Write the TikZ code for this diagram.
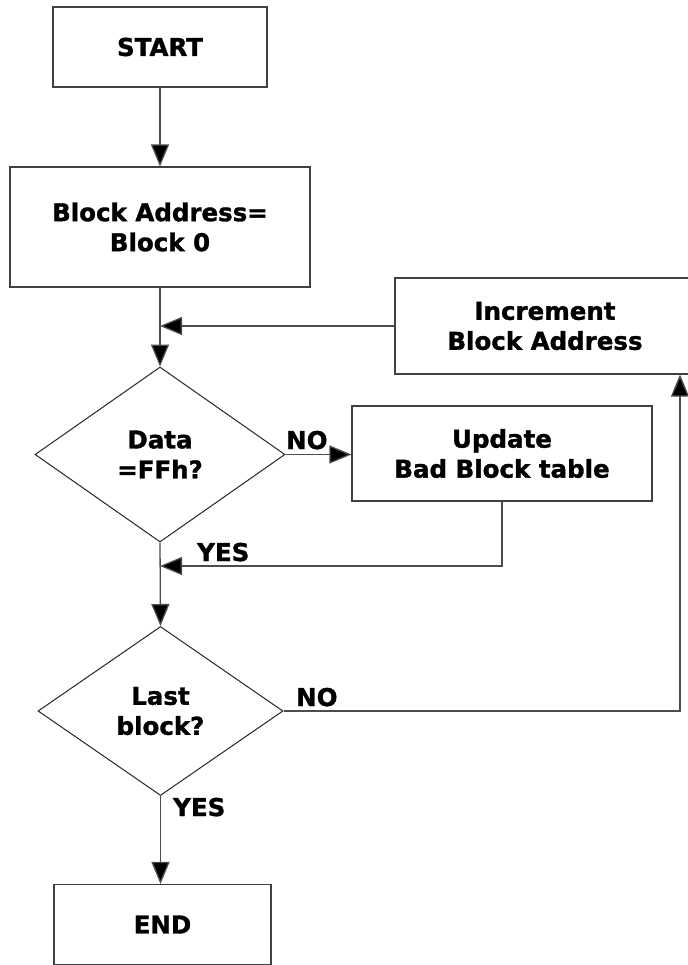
\documentclass[tikz,border=0pt]{standalone}
\usepackage{fontspec}
\setmainfont{DejaVu Sans}[BoldFeatures={FakeBold=1.3}]
\usetikzlibrary{shapes.geometric,arrows.meta}
\begin{document}
\begin{tikzpicture}[x=1pt,y=-1pt,
  every node/.style={font=\fontsize{24.5}{30}\selectfont\bfseries, align=center, inner sep=0pt},
  box/.style={draw=black!75, line width=1.2pt, rectangle},
  dec/.style={draw=black!85, line width=1pt, diamond},
  conn/.style={draw=black!70, line width=1.3pt},
  arr/.style={conn, -{Triangle[length=22pt,width=18pt,fill=black]}},
  lbl/.style={anchor=base west}]
\useasboundingbox[fill=white] (0,0) rectangle (687,965);
\node[box, minimum width=214pt, minimum height=80pt] (start) at (160,47) {START};
\node[box, minimum width=300pt, minimum height=120pt] (blk) at (160,227) {Block Address=\\Block 0};
\node[box, minimum width=300pt, minimum height=96pt] (inc) at (545,326) {Increment\\Block Address};
\node[dec, minimum width=250pt, minimum height=175pt] (d1) at (160,454.5) {Data\\=FFh?};
\node[box, minimum width=300pt, minimum height=95pt] (upd) at (502,453.5) {Update\\Bad Block table};
\node[dec, minimum width=245pt, minimum height=169pt] (d2) at (160.5,711) {Last\\block?};
\node[box, minimum width=217pt, minimum height=80pt] (end) at (162.5,924.5) {END};
\coordinate (m1) at (160,566);
\coordinate (c2) at (680,711);
\node[lbl] (no1) at (286,449) {NO};
\node[lbl] (yes1) at (197,561) {YES};
\node[lbl] (no2) at (296,706) {NO};
\node[lbl] (yes2) at (173,816) {YES};
\draw[arr] (start.south) -- (start.south |- blk.north);
\draw[arr] (blk.south) -- (d1.north);
\draw[arr] (inc.west) -- (inc.west -| blk.south);
\draw[arr] (d1.east) -- (d1.east -| upd.west);
\draw[arr] (upd.south) |- (m1);
\draw[arr] (d1.south) -- (d2.north);
\draw[arr] (d2.east) -- (c2) -- (c2 |- inc.south);
\draw[arr] (d2.south) -- (d2.south |- end.north);
\end{tikzpicture}
\end{document}
